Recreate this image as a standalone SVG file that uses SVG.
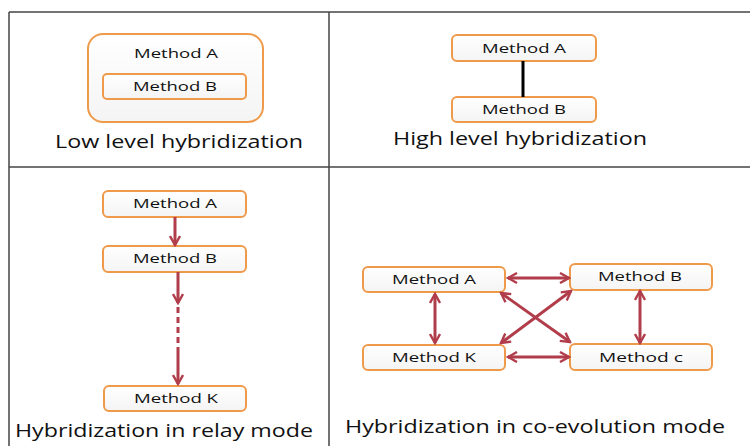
<svg xmlns="http://www.w3.org/2000/svg" width="750" height="446" viewBox="0 0 750 446">
<defs>
<linearGradient id="bg" x1="0" y1="0" x2="0" y2="1">
<stop offset="0" stop-color="#ffffff"/>
<stop offset="1" stop-color="#f4f4f4"/>
</linearGradient>
<marker id="ah" viewBox="0 0 12 12" refX="10" refY="6" markerWidth="12" markerHeight="12" markerUnits="userSpaceOnUse" orient="auto-start-reverse">
<path d="M1,1 L10,6 L1,11" fill="none" stroke="#b13d4b" stroke-width="2.4" stroke-linejoin="miter"/>
</marker>
</defs>
<style>
.grid{stroke:#444;stroke-width:1.5;fill:none}
.box{fill:url(#bg);stroke:#ef9a4a;stroke-width:2}
.t{font-family:"Open Sans","Liberation Sans",sans-serif;font-size:13px;fill:#111;text-anchor:middle}
.lbl{font-family:"Open Sans","Liberation Sans",sans-serif;font-size:19px;fill:#111}
.arr{stroke:#b13d4b;stroke-width:3;fill:none}
</style>
<rect width="750" height="446" fill="#fff"/>
<g id="grid">
<line class="grid" x1="9" y1="12" x2="750" y2="12"/>
<line class="grid" x1="9" y1="12" x2="9" y2="446"/>
<line class="grid" x1="329" y1="12" x2="329" y2="446"/>
<line class="grid" x1="9" y1="167" x2="750" y2="167"/>
</g>

<!-- Low level -->
<g id="low-outer">
<rect class="box" x="88" y="34" width="175" height="88" rx="15"/>
<text class="t" x="176" y="58" textLength="84" lengthAdjust="spacingAndGlyphs">Method A</text>
</g>
<g id="low-inner">
<rect class="box" x="103" y="74" width="143" height="25" rx="4"/>
<text class="t" x="175" y="91" textLength="84" lengthAdjust="spacingAndGlyphs">Method B</text>
</g>
<text class="lbl" x="55" y="148" textLength="248" lengthAdjust="spacingAndGlyphs">Low level hybridization</text>

<!-- High level -->
<g id="high-a">
<rect class="box" x="452" y="35" width="144" height="26" rx="5"/>
<text class="t" x="524" y="53" textLength="84" lengthAdjust="spacingAndGlyphs">Method A</text>
</g>
<g id="high-b">
<rect class="box" x="452" y="97" width="144" height="25" rx="5"/>
<text class="t" x="524" y="114" textLength="84" lengthAdjust="spacingAndGlyphs">Method B</text>
</g>
<text class="lbl" x="393" y="145" textLength="254" lengthAdjust="spacingAndGlyphs">High level hybridization</text>

<!-- Relay -->
<g id="relay-a">
<rect class="box" x="103" y="191" width="143" height="26" rx="5"/>
<text class="t" x="175" y="208" textLength="84" lengthAdjust="spacingAndGlyphs">Method A</text>
</g>
<g id="relay-b">
<rect class="box" x="103" y="246" width="143" height="26" rx="5"/>
<text class="t" x="175" y="263" textLength="84" lengthAdjust="spacingAndGlyphs">Method B</text>
</g>
<g id="relay-k">
<rect class="box" x="104" y="386" width="142" height="25" rx="5"/>
<text class="t" x="176" y="403" textLength="84" lengthAdjust="spacingAndGlyphs">Method K</text>
</g>
<text class="lbl" x="15" y="437" textLength="298" lengthAdjust="spacingAndGlyphs">Hybridization in relay mode</text>

<!-- Co-evolution -->
<g id="co-a">
<rect class="box" x="363" y="267" width="142" height="25" rx="5"/>
<text class="t" x="434" y="284" textLength="84" lengthAdjust="spacingAndGlyphs">Method A</text>
</g>
<g id="co-b">
<rect class="box" x="570" y="264" width="142" height="26" rx="5"/>
<text class="t" x="640" y="281" textLength="84" lengthAdjust="spacingAndGlyphs">Method B</text>
</g>
<g id="co-k">
<rect class="box" x="363" y="345" width="142" height="25" rx="5"/>
<text class="t" x="434" y="362" textLength="84" lengthAdjust="spacingAndGlyphs">Method K</text>
</g>
<g id="co-c">
<rect class="box" x="570" y="344" width="142" height="26" rx="5"/>
<text class="t" x="641" y="362" textLength="84" lengthAdjust="spacingAndGlyphs">Method c</text>
</g>
<text class="lbl" x="345" y="433" textLength="380" lengthAdjust="spacingAndGlyphs">Hybridization in co-evolution mode</text>

<g id="connectors">
<line x1="523" y1="61" x2="523" y2="97" stroke="#000" stroke-width="3"/>
<line class="arr" x1="175" y1="217" x2="175" y2="245" marker-end="url(#ah)"/>
<line class="arr" x1="178" y1="272" x2="178" y2="303" marker-end="url(#ah)"/>
<line class="arr" x1="178" y1="307" x2="178" y2="348" stroke-dasharray="6,4"/>
<line class="arr" x1="178" y1="348" x2="178" y2="384" marker-end="url(#ah)"/>
<line class="arr" x1="508" y1="278" x2="569" y2="278" marker-start="url(#ah)" marker-end="url(#ah)"/>
<line class="arr" x1="508" y1="357" x2="569" y2="357" marker-start="url(#ah)" marker-end="url(#ah)"/>
<line class="arr" x1="435" y1="294" x2="435" y2="343" marker-start="url(#ah)" marker-end="url(#ah)"/>
<line class="arr" x1="640" y1="291" x2="640" y2="343" marker-start="url(#ah)" marker-end="url(#ah)"/>
<line class="arr" x1="501" y1="293" x2="570" y2="342" marker-start="url(#ah)" marker-end="url(#ah)"/>
<line class="arr" x1="501" y1="343" x2="571" y2="291" marker-start="url(#ah)" marker-end="url(#ah)"/>
</g>
</svg>
